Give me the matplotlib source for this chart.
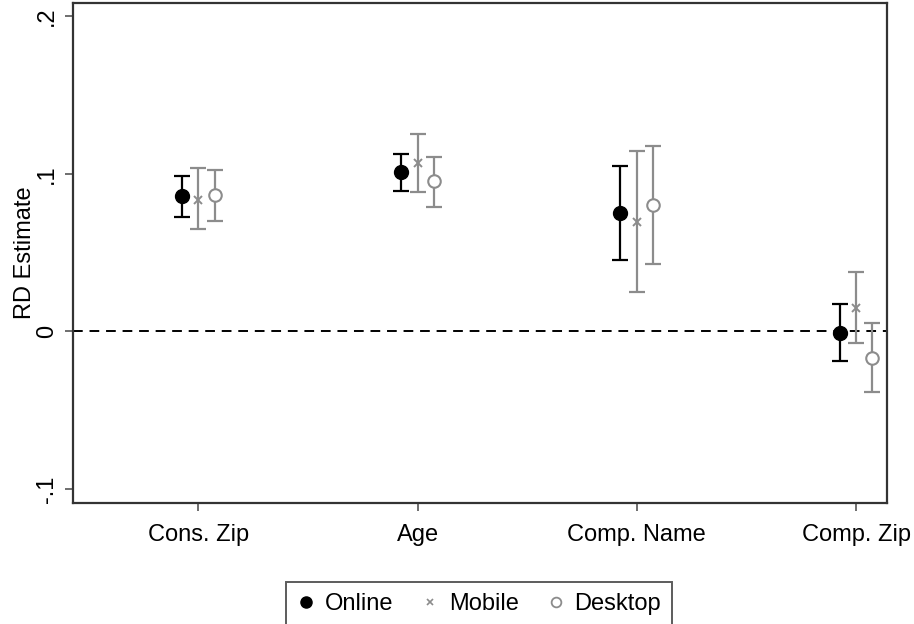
import matplotlib
matplotlib.use("Agg")
import matplotlib.pyplot as plt
import numpy as np

plt.rcParams['font.family'] = ['Liberation Sans', 'DejaVu Sans']

categories = ["Cons. Zip", "Age", "Comp. Name", "Comp. Zip"]
series = ["Online", "Mobile", "Desktop"]

online_est = [0.0857, 0.1011, 0.0751, -0.0008]
online_lo = [0.0726, 0.0889, 0.0451, -0.0187]
online_hi = [0.0986, 0.1128, 0.1050, 0.0175]

mobile_est = [0.0836, 0.1071, 0.0694, 0.0146]
mobile_lo = [0.0648, 0.0884, 0.0248, -0.0075]
mobile_hi = [0.1040, 0.1255, 0.1145, 0.0376]

desktop_est = [0.0863, 0.0952, 0.0800, -0.0167]
desktop_lo = [0.0698, 0.0787, 0.0430, -0.0382]
desktop_hi = [0.1022, 0.1107, 0.1175, 0.0052]

ytick_vals = [-0.1, 0, 0.1, 0.2]
ytick_labels = ["-.1", "0", ".1", ".2"]

fig = plt.figure(figsize=(9.14, 6.24), dpi=100)
ax = fig.add_axes([73/914, 1-503/624, (887-73)/914, (503-3)/624])

x = np.arange(1, len(categories) + 1)
gray = "#8c8c8c"
offsets = [-0.075, 0.0, 0.074]
specs = [
    (online_est, online_lo, online_hi, "black", dict(marker="o", markersize=10, markerfacecolor="black", markeredgecolor="black")),
    (mobile_est, mobile_lo, mobile_hi, gray, dict(marker="x", markersize=6, markeredgewidth=1.4, markeredgecolor=gray)),
    (desktop_est, desktop_lo, desktop_hi, gray, dict(marker="o", markersize=9, markerfacecolor="white", markeredgecolor=gray, markeredgewidth=1.5)),
]
for (est, lo, hi, col, mk), off, name in zip(specs, offsets, series):
    est = np.array(est); lo = np.array(lo); hi = np.array(hi)
    ax.errorbar(x + off, est, yerr=[est - lo, hi - est], fmt="none", ecolor=col,
                elinewidth=1.6, capsize=6, capthick=1.6, zorder=2)
    ax.plot(x + off, est, linestyle="none", color=col, zorder=3, label=name, **mk)

ax.axhline(0, color="black", linestyle=(0, (5, 3.5)), linewidth=1.4, zorder=1)

ax.set_xlim(0.428, 4.141)
ax.set_ylim(-0.109, 0.2085)
ax.set_xticks(x)
ax.set_xticklabels(categories, fontsize=17)
ax.set_yticks(ytick_vals)
ax.set_yticklabels(ytick_labels, fontsize=17, rotation=90, va="center")
ax.set_ylabel("RD Estimate", fontsize=17, labelpad=0)
ax.tick_params(axis="both", direction="out", length=6, width=1.2, color="#555555")
ax.tick_params(axis="x", pad=9)
ax.tick_params(axis="y", pad=5)
for s in ax.spines.values():
    s.set_color("#333333")
    s.set_linewidth(1.6)

leg_handles = [
    plt.Line2D([], [], linestyle="none", marker="o", markersize=8, color="black"),
    plt.Line2D([], [], linestyle="none", marker="x", markersize=5, markeredgewidth=1.2, color=gray),
    plt.Line2D([], [], linestyle="none", marker="o", markersize=7, markerfacecolor="white", markeredgecolor=gray, markeredgewidth=1.3),
]
leg = fig.legend(leg_handles, series, loc="center", bbox_to_anchor=(479/914, 1-604/624),
                 ncol=3, fontsize=17, frameon=True, fancybox=False, edgecolor="#333333",
                 handlelength=0.8, handletextpad=0.4, columnspacing=1.15, borderpad=0.45)
leg.get_frame().set_linewidth(1.4)

fig.savefig("out.png", dpi=100)
